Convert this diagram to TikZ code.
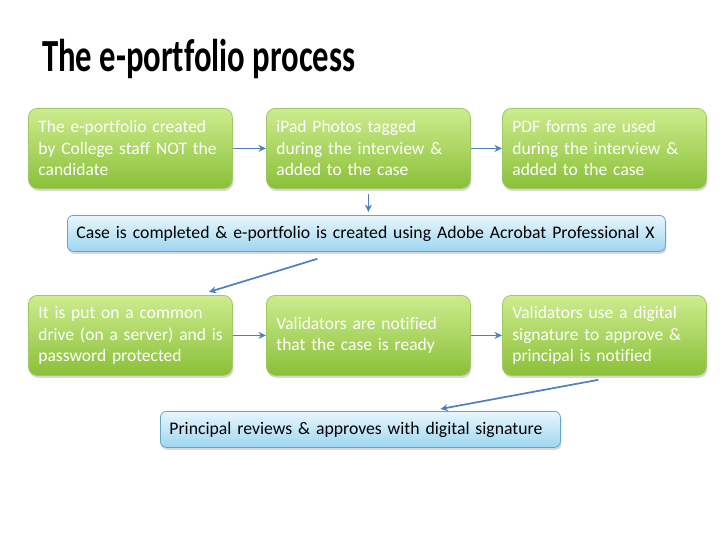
\documentclass[tikz,border=0pt]{standalone}
\usepackage{fontspec}
\setmainfont[Ligatures=NoCommon]{Carlito}
\usetikzlibrary{shadows,arrows.meta}
\definecolor{gtop}{RGB}{205,236,142}
\definecolor{gbot}{RGB}{138,192,56}
\definecolor{gborder}{RGB}{160,200,100}
\definecolor{btop}{RGB}{232,247,253}
\definecolor{bbot}{RGB}{158,214,240}
\definecolor{bborder}{RGB}{100,165,200}
\definecolor{arr}{RGB}{79,129,189}
\tikzset{
  gbox/.style={draw=gborder, line width=0.8pt, rounded corners=9pt,
    top color=gtop, bottom color=gbot, minimum width=204pt, minimum height=80pt,
    text width=188pt, align=left, text=white, inner xsep=8pt, inner ysep=0pt,
    font=\fontsize{17.5}{21.5}\selectfont,
    drop shadow={opacity=0.3, shadow xshift=1pt, shadow yshift=-2.5pt}},
  bbox/.style={draw=bborder, line width=0.8pt, rounded corners=6pt,
    top color=btop, bottom color=bbot, minimum height=36pt, inner xsep=9pt, inner ysep=0pt,
    align=left, text=black, font=\fontsize{17.7}{20}\selectfont,
    drop shadow={opacity=0.3, shadow xshift=1pt, shadow yshift=-2.5pt}},
  conn/.style={draw=arr, line width=1.7pt, -{Stealth[length=7.5pt,width=7pt]}}
}
\begin{document}
\begin{tikzpicture}[x=1pt,y=1pt]
\useasboundingbox (0,0) rectangle (728,-546);
\fill[white] (0,0) rectangle (728,-546);
\node[anchor=base west, inner sep=0pt] (title) at (42,-71)
  {\resizebox{313pt}{\height}{\fontsize{46}{46}\selectfont\bfseries The e-portfolio process}};

\node[gbox, anchor=north west] (a) at (28,-108)
  {\hspace*{2pt}The e-portfolio created\\\hspace*{2pt}by College staff NOT the\\\hspace*{2pt}candidate};
\node[gbox, anchor=north west] (b) at (266,-108)
  {\hspace*{2pt}iPad Photos tagged\\\hspace*{2pt}during the interview \&\\\hspace*{2pt}added to the case};
\node[gbox, anchor=north west] (c) at (502,-108)
  {\hspace*{2pt}PDF forms are used\\\hspace*{2pt}during the interview \&\\\hspace*{2pt}added to the case};

\node[bbox, anchor=north west, minimum width=598pt, text width=580pt] (p) at (67,-215)
  {Case is completed \& e-portfolio is created using Adobe Acrobat Professional X};

\node[gbox, anchor=north west] (d) at (28,-295)
  {\hspace*{2pt}It is put on a common\\\hspace*{2pt}drive (on a server) and is\\\hspace*{2pt}password protected};
\node[gbox, anchor=north west] (e) at (266,-295)
  {\hspace*{2pt}Validators are notified\\\hspace*{2pt}that the case is ready};
\node[gbox, anchor=north west] (f) at (502,-295)
  {\hspace*{2pt}Validators use a digital\\\hspace*{2pt}signature to approve \&\\\hspace*{2pt}principal is notified};

\node[bbox, anchor=north west, minimum width=400pt, text width=382pt] (q) at (160,-411)
  {Principal reviews \& approves with digital signature};

\draw[conn] (a.east) -- (b.west);
\draw[conn] (b.east) -- (c.west);
\draw[conn] ([yshift=-5pt]b.south) -- ([yshift=3pt]b.south |- p.north);
\draw[conn] ([xshift=-49pt,yshift=-7pt]p.south) -- ([xshift=-24pt,yshift=3pt]d.north east);
\draw[conn] (d.east) -- (e.west);
\draw[conn] (e.east) -- (f.west);
\draw[conn] ([xshift=-6pt,yshift=-4pt]f.south) -- ([xshift=80pt,yshift=2pt]q.north);
\end{tikzpicture}
\end{document}
